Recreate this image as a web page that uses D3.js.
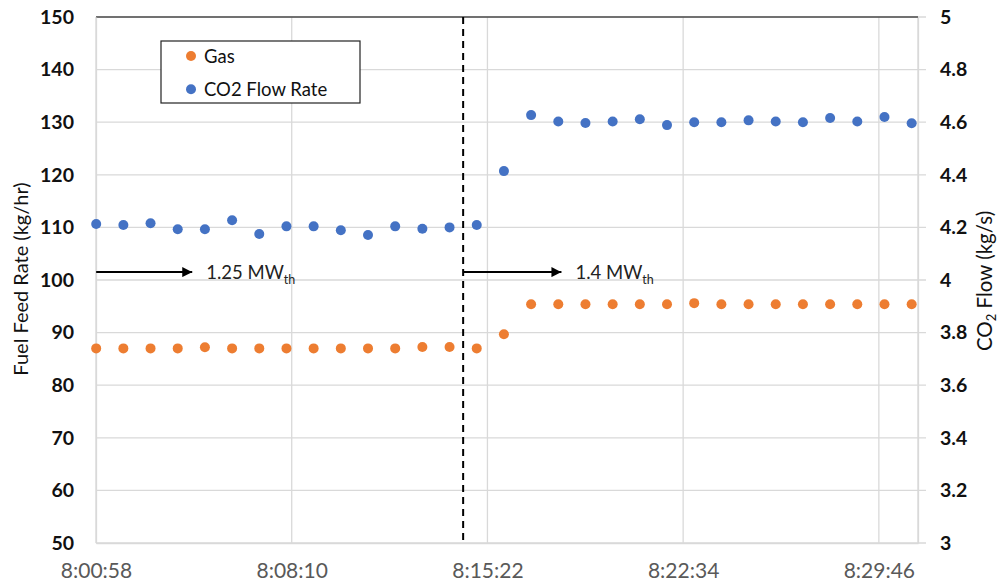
<!DOCTYPE html>
<html><head><meta charset="utf-8">
<script src="https://cdn.jsdelivr.net/npm/d3@7"></script>
<style>
html,body{margin:0;padding:0;background:#fff;}
svg{display:block;font-family:Lato, "Open Sans", sans-serif;}
</style></head>
<body>
<svg id="chart" width="998" height="587"></svg>
<script>
// ---- data ----
const times = ["8:00:58","8:01:58","8:02:58","8:03:58","8:04:58","8:05:58","8:06:58","8:07:58",
  "8:08:58","8:09:58","8:10:58","8:11:58","8:12:58","8:13:58","8:14:58","8:15:58","8:16:58",
  "8:17:58","8:18:58","8:19:58","8:20:58","8:21:58","8:22:58","8:23:58","8:24:58","8:25:58",
  "8:26:58","8:27:58","8:28:58","8:29:58","8:30:58"];
const gas = [87.0,87.0,87.0,87.0,87.2,87.0,87.0,87.0,87.0,87.0,87.0,87.0,87.25,87.25,87.0,
  89.7,95.4,95.4,95.4,95.4,95.4,95.4,95.6,95.4,95.4,95.4,95.4,95.4,95.4,95.4,95.4];
const co2 = [4.213,4.209,4.216,4.193,4.193,4.227,4.175,4.204,4.204,4.189,4.171,4.204,4.195,4.200,4.209,
  4.414,4.627,4.603,4.597,4.603,4.611,4.589,4.600,4.600,4.607,4.603,4.600,4.616,4.603,4.620,4.596];
const xTickLabels = ["8:00:58","8:08:10","8:15:22","8:22:34","8:29:46"];
const leftTicks = [50,60,70,80,90,100,110,120,130,140,150];
const rightTicks = [3,3.2,3.4,3.6,3.8,4,4.2,4.4,4.6,4.8,5];
const seriesNames = ["Gas","CO2 Flow Rate"];
const colors = ["#ED7D31","#4472C4"];
const xMinDays = 0.334, xMaxDays = 0.355, xMajorDays = 0.005;   // Excel serial-day axis bounds
const changeTime = "8:14:28";
const annotations = [{start:"8:00:58", end:"8:04:30", level:101.5, label:"1.25 MW", sub:"th"},
                     {start:"8:14:28", end:"8:18:05", level:101.5, label:"1.4 MW", sub:"th"}];

// ---- helpers ----
const toSec = s => { const p = s.split(":").map(Number); return p[0]*3600+p[1]*60+p[2]; };

const svg = d3.select("#chart");
const L = 96, R = 918, T = 17, B = 543;
const x = d3.scaleLinear().domain([xMinDays*86400, xMaxDays*86400]).range([L, R]);
const yL = d3.scaleLinear().domain([50,150]).range([B, T]);
const yR = d3.scaleLinear().domain([3,5]).range([B, T]);
const xTickVals = xTickLabels.map((_,i)=> (xMinDays + i*xMajorDays)*86400);

const grid = "#d9d9d9";
// horizontal gridlines
svg.append("g").selectAll("line").data(leftTicks).join("line")
  .attr("x1", L).attr("x2", R+8).attr("y1", d=>yL(d)).attr("y2", d=>yL(d))
  .attr("stroke", grid).attr("stroke-width", 1.3);
// vertical gridlines
svg.append("g").selectAll("line").data(xTickVals.concat([xMaxDays*86400])).join("line")
  .attr("x1", d=>x(d)).attr("x2", d=>x(d)).attr("y1", T).attr("y2", B)
  .attr("stroke", grid).attr("stroke-width", 1.3);
// top border
svg.append("line").attr("x1", L).attr("x2", R).attr("y1", T).attr("y2", T)
  .attr("stroke", "#000").attr("stroke-width", 1.2);

// axes
const leftAxis = d3.axisLeft(yL).tickValues(leftTicks).tickSize(0).tickPadding(22).tickFormat(d3.format("d"));
const gL = svg.append("g").attr("transform", `translate(${L},0)`).call(leftAxis);
gL.select(".domain").attr("stroke", grid).attr("stroke-width", 1.3);
gL.selectAll("text").attr("font-size", 19.5).attr("font-weight", "bold").attr("fill", "#111")
  .attr("font-family", "Lato");

const rightAxis = d3.axisRight(yR).tickValues(rightTicks).tickSize(0).tickPadding(22).tickFormat((d,i)=>String(rightTicks[i]));
const gR = svg.append("g").attr("transform", `translate(${R},0)`).call(rightAxis);
gR.select(".domain").attr("stroke", grid).attr("stroke-width", 1.3);
gR.selectAll("text").attr("font-size", 19.5).attr("font-weight", "bold").attr("fill", "#111")
  .attr("font-family", "Lato");

const bottomAxis = d3.axisBottom(x).tickValues(xTickVals).tickSize(0).tickPadding(20).tickFormat((d,i)=>xTickLabels[i]);
const gB = svg.append("g").attr("transform", `translate(0,${B})`).call(bottomAxis);
gB.select(".domain").attr("stroke", grid).attr("stroke-width", 1.3);
gB.selectAll("text").attr("font-size", 21).attr("fill", "#595959").attr("font-family", "Lato");

// axis titles
svg.append("text").attr("transform", `translate(28,279) rotate(-90)`)
  .attr("text-anchor","middle").attr("font-size", 20).attr("fill","#111")
  .text("Fuel Feed Rate (kg/hr)");
const rt = svg.append("text").attr("transform", `translate(992,281) rotate(-90)`)
  .attr("text-anchor","middle").attr("font-size", 20.5).attr("fill","#111");
rt.append("tspan").text("CO");
rt.append("tspan").attr("font-size", 13).attr("dy", 4).text("2");
rt.append("tspan").attr("dy", -4).text(" Flow (kg/s)");

// dashed change line
svg.append("line").attr("x1", x(toSec(changeTime))).attr("x2", x(toSec(changeTime)))
  .attr("y1", T).attr("y2", B).attr("stroke", "#000").attr("stroke-width", 2)
  .attr("stroke-dasharray", "7,5");

// arrows
const defs = svg.append("defs");
defs.append("marker").attr("id","ah").attr("viewBox","0 0 10 10").attr("refX",10).attr("refY",5)
  .attr("markerWidth",10).attr("markerHeight",10).attr("markerUnits","userSpaceOnUse").attr("orient","auto")
  .append("path").attr("d","M0,0 L10,5 L0,10 Z").attr("fill","#000");
annotations.forEach(a=>{
  svg.append("line").attr("x1", x(toSec(a.start))).attr("x2", x(toSec(a.end)))
    .attr("y1", yL(a.level)).attr("y2", yL(a.level)).attr("stroke","#000").attr("stroke-width",2)
    .attr("marker-end","url(#ah)");
  const t = svg.append("text").attr("x", x(toSec(a.end))+14).attr("y", yL(a.level)+7)
    .attr("font-size", 18.5).attr("fill","#222");
  t.append("tspan").text(a.label);
  t.append("tspan").attr("font-size", 12.5).attr("dy", 5).text(a.sub);
});

// points
const pts = svg.append("g");
pts.selectAll("circle.gas").data(gas).join("circle").attr("class","gas")
  .attr("cx", (d,i)=>x(toSec(times[i]))).attr("cy", d=>yL(d)).attr("r", 5).attr("fill", colors[0]);
pts.selectAll("circle.co2").data(co2).join("circle").attr("class","co2")
  .attr("cx", (d,i)=>x(toSec(times[i]))).attr("cy", d=>yR(d)).attr("r", 5).attr("fill", colors[1]);

// legend
const lg = svg.append("g");
lg.append("rect").attr("x",161).attr("y",41).attr("width",199).attr("height",62)
  .attr("fill","#fff").attr("stroke","#222").attr("stroke-width",1.2);
seriesNames.forEach((n,i)=>{
  lg.append("circle").attr("cx",191).attr("cy",56+i*33.3).attr("r",5).attr("fill",colors[i]);
  lg.append("text").attr("x",204).attr("y",56+i*33.3+6.5).attr("font-size",18.5).attr("fill","#111").text(n);
});
</script>
</body></html>
